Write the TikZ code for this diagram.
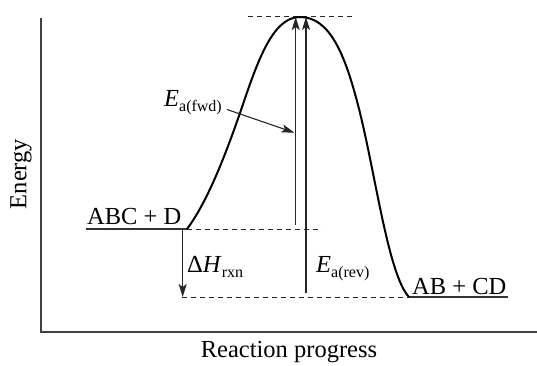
\documentclass[tikz,border=0pt]{standalone}
\usepackage{fontspec}
\setmainfont{Liberation Serif}
\usetikzlibrary{arrows.meta}
\newcommand{\lsub}[1]{\raisebox{-5pt}{\fontsize{16}{16}\selectfont #1}}
\begin{document}
\begin{tikzpicture}[x=1pt,y=-1pt,
  lbl/.style={inner sep=0pt,font=\fontsize{24.5}{28}\selectfont},
  axisline/.style={line width=1.3pt,draw=black!75},
  level/.style={line width=2.4pt,draw=black!80},
  guide/.style={line width=1pt,dash pattern=on 5pt off 4pt,draw=black!85},
  curveline/.style={line width=2pt,draw=black},
  arr/.style={line width=1.3pt,draw=black!85,-{Stealth[length=13pt,width=8pt,inset=3pt]}}]
\useasboundingbox (0,0) rectangle (537,366);
% axes
\coordinate (origin) at (41,332);
\coordinate (ytop) at (41,18);
\coordinate (xend) at (537,332);
\draw[axisline] (ytop) -- (origin) -- (xend);
\node[lbl,rotate=90] (energy) at (21,174) {Energy};
\node[lbl] (progress) at (289,352) {Reaction progress};
% levels
\coordinate (reacL) at (86,229);
\coordinate (reacR) at (187,229);
\coordinate (prodL) at (409,297);
\coordinate (prodR) at (508,297);
\coordinate (peak) at (300,17);
\draw[level] (reacL) -- (reacR);
\draw[level] (prodL) -- (prodR);
% guides
\coordinate (topL) at (248,17);
\coordinate (topR) at (352,17);
\coordinate (midR) at (322,229);
\coordinate (lowL) at (182,297);
\draw[guide] (topL) -- (topR);
\draw[guide] (reacR) -- (midR);
\draw[guide] (lowL) -- (prodL);
% curve
\draw[curveline] (reacR) .. controls (205,205) and (222,165) .. (240,113)
  .. controls (257,63) and (272,17) .. (peak)
  .. controls (330,17) and (345,55) .. (358,105)
  .. controls (375,170) and (388,275) .. (prodL);
% arrows
\coordinate (fwdB) at (295.7,225);
\coordinate (fwdT) at (295.7,17);
\coordinate (revB) at (306,293);
\coordinate (revT) at (306,17);
\coordinate (dhT) at (182.7,229);
\coordinate (dhB) at (182.7,297);
\draw[arr] (fwdB) -- (fwdT);
\draw[arr] (revB) -- (revT);
\draw[arr] (dhT) -- (dhB);
% labels
\node[lbl,anchor=base west] (abc) at (87,224) {ABC + D};
\node[lbl,anchor=base west] (ab) at (412,294) {AB + CD};
\node[lbl,anchor=base west] (fwd) at (164,106.5) {\textit{E}\lsub{a(fwd)}};
\node[lbl,anchor=base west] (dh) at (187,272) {Δ\textit{H}\lsub{rxn}};
\node[lbl,anchor=base west] (rev) at (316,272) {\textit{E}\lsub{a(rev)}};
% pointer
\coordinate (ptrS) at (227,109.5);
\coordinate (ptrE) at (294.5,132.7);
\draw[arr,line width=1.1pt] (ptrS) -- (ptrE);
\end{tikzpicture}
\end{document}
